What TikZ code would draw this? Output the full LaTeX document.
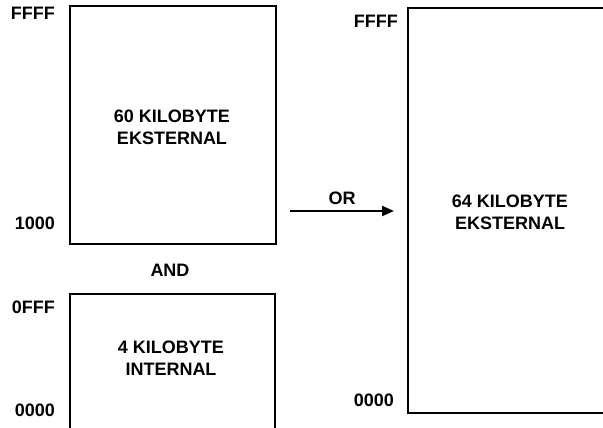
\documentclass[tikz,border=0pt]{standalone}
\usepackage{fontspec}
\setmainfont{Liberation Sans}
\usetikzlibrary{arrows.meta}
\begin{document}
\begin{tikzpicture}[x=1pt,y=-1pt,
  lbl/.style={font=\fontsize{18}{22}\selectfont\bfseries, inner sep=0pt, align=center},
  addr/.style={lbl, anchor=east},
  wall/.style={line width=2pt, line cap=rect},
  arr/.style={line width=2pt, -{Triangle[length=12pt,width=10pt]}}]
\useasboundingbox (0,0) rectangle (603,428);
% box 1 (60 KB external)
\draw[wall] (70,6) rectangle (276,244);
% box 2 (4 KB internal), open bottom
\draw[wall] (70,440) -- (70,294) -- (275,294) -- (275,440);
% box 3 (64 KB external), open right
\draw[wall] (615,8) -- (408,8) -- (408,413) -- (615,413);

\node[lbl] (t1) at (172,127) {60 KILOBYTE\\EKSTERNAL};
\node[lbl] (t2) at (171,358) {4 KILOBYTE\\INTERNAL};
\node[lbl] (t3) at (510,212) {64 KILOBYTE\\EKSTERNAL};

\node[addr] (a1) at (55,13) {FFFF};
\node[addr] (a2) at (55,223.5) {1000};
\node[addr] (a3) at (55,307) {0FFF};
\node[addr] (a4) at (55,410) {0000};
\node[addr] (a5) at (398,21.5) {FFFF};
\node[addr] (a6) at (394,400) {0000};

\node[lbl] (and) at (170,270) {AND};
\node[lbl] (or) at (342,198) {OR};

\coordinate (arrS) at (290,211);
\coordinate (arrE) at (394,211);
\draw[arr] (arrS) -- (arrE);
\end{tikzpicture}
\end{document}
